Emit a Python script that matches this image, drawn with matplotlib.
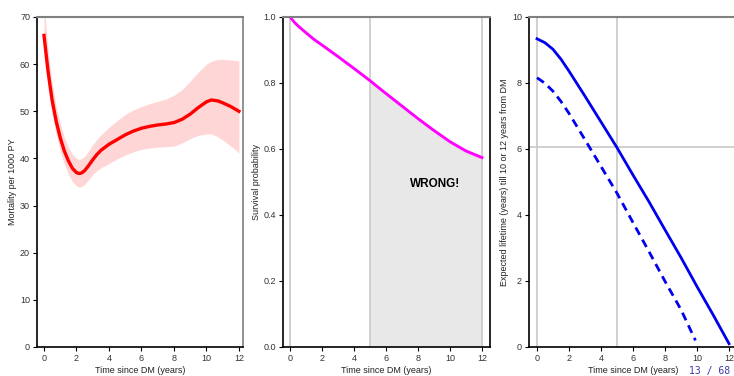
import matplotlib
matplotlib.use("Agg")
import matplotlib.pyplot as plt

plt.rcParams['font.family'] = ['Liberation Sans', 'DejaVu Sans']

# --- panel 1: mortality rate ---
t_mort = [0.0, 0.25, 0.5, 0.75, 1.0, 1.25, 1.5, 1.75, 2.0, 2.15, 2.3, 2.5, 2.75, 3.0, 3.25,
          3.5, 4.0, 4.5, 5.0, 5.5, 6.0, 6.5, 7.0, 7.5, 8.0, 8.5, 9.0, 9.5, 10.0, 10.3,
          10.7, 11.0, 11.5, 12.0]
mort = [66.1, 58.5, 52.4, 47.9, 44.4, 41.6, 39.5, 37.9, 37.0, 36.8, 36.9, 37.4, 38.5, 39.7, 40.8,
        41.7, 43.0, 44.0, 45.0, 45.8, 46.4, 46.8, 47.1, 47.3, 47.6, 48.3, 49.4, 50.8, 52.0, 52.4,
        52.2, 51.8, 51.0, 50.0]
mort_lo = [62.0, 55.0, 49.3, 45.0, 41.6, 38.8, 36.7, 35.1, 34.2, 33.9, 34.0, 34.5, 35.5, 36.6, 37.4,
           38.0, 38.9, 39.9, 40.7, 41.4, 41.9, 42.2, 42.4, 42.5, 42.6, 43.3, 44.2, 44.9, 45.2, 45.2,
           44.6, 43.9, 42.6, 41.2]
mort_hi = [73.0, 63.0, 56.0, 51.0, 47.4, 44.5, 42.4, 40.8, 40.0, 39.8, 39.9, 40.4, 41.6, 42.9, 44.0,
           45.0, 46.6, 48.0, 49.3, 50.3, 51.0, 51.6, 52.1, 52.6, 53.4, 54.6, 56.4, 58.3, 60.0, 60.6,
           61.0, 61.0, 60.9, 60.7]

# --- panel 2: survival ---
t_surv = [0.0, 0.25, 0.5, 1.0, 1.5, 2.0, 3.0, 4.0, 5.0, 6.0, 7.0, 8.0, 9.0, 10.0, 11.0, 12.0]
surv = [1.0, 0.985, 0.973, 0.952, 0.932, 0.915, 0.880, 0.844, 0.807, 0.768, 0.730, 0.692,
        0.656, 0.622, 0.594, 0.574]

# --- panel 3: expected lifetime ---
t_life12 = [0.0, 0.5, 1.0, 1.5, 2.0, 3.0, 4.0, 5.0, 6.0, 7.0, 8.0, 9.0, 10.0, 11.0, 12.0]
life12 = [9.34, 9.22, 9.02, 8.72, 8.36, 7.60, 6.82, 6.04, 5.21, 4.40, 3.55, 2.71, 1.83, 0.98, 0.10]
t_life10 = [0.0, 0.5, 1.0, 1.5, 2.0, 3.0, 4.0, 5.0, 6.0, 7.0, 8.0, 9.0, 9.9]
life10 = [8.16, 7.99, 7.75, 7.44, 7.08, 6.28, 5.47, 4.66, 3.77, 2.89, 1.99, 1.13, 0.20]

W, H = 734, 376
fig = plt.figure(figsize=(W / 100, H / 100), dpi=100)


def make_ax(left, right, top, bottom, xlim, ylim, yticks, ylabel, right_col):
    ax = fig.add_axes([left / W, (H - bottom) / H, (right - left) / W, (bottom - top) / H])
    ax.set_xlim(*xlim)
    ax.set_ylim(*ylim)
    ax.set_xticks(range(0, 13, 2))
    ax.set_yticks(yticks)
    ax.tick_params(direction='out', length=3, width=0.8, labelsize=6.5,
                   labelcolor='#333333', pad=2)
    for s in ('left', 'bottom'):
        ax.spines[s].set_color('black')
        ax.spines[s].set_linewidth(1.2)
    ax.spines['top'].set_color('#808080')
    ax.spines['top'].set_linewidth(1.5)
    ax.spines['right'].set_color(right_col)
    ax.spines['right'].set_linewidth(1.2)
    ax.set_xlabel('Time since DM (years)', fontsize=6.5, color='#222222', labelpad=2.5)
    ax.set_ylabel(ylabel, fontsize=6.5, color='#222222', labelpad=2)
    return ax


# panel 1
ax1 = make_ax(37, 243, 17, 347, (-0.43, 12.25), (0, 70), range(0, 71, 10),
              'Mortality per 1000 PY', '#808080')
ax1.fill_between(t_mort, mort_lo, mort_hi, color='#ffd6d6', lw=0)
ax1.plot(t_mort, mort, color='red', lw=2.4, solid_joinstyle='round')

# panel 2
ax2 = make_ax(283, 490, 17, 347, (-0.44, 12.5), (0, 1.0), [0, 0.2, 0.4, 0.6, 0.8, 1.0],
              'Survival probability', 'black')
ax2.yaxis.set_major_formatter(plt.FormatStrFormatter('%.1f'))
shade_t = [t for t in t_surv if t >= 5]
shade_s = [s for t, s in zip(t_surv, surv) if t >= 5]
ax2.fill_between(shade_t, 0, shade_s, color='#e8e8e8', lw=0)
for xv in (0, 5, 12):
    ax2.axvline(xv, color='#c8c8c8', lw=1.2)
ax2.fill_between(t_surv, [s - 0.006 for s in surv], [s + 0.006 for s in surv],
                 color='#f0b0f0', alpha=0.6, lw=0)
ax2.plot(t_surv, surv, color='#ff00ff', lw=2)
ax2.text(9.06, 0.495, 'WRONG!', fontsize=8.5, fontweight='bold', ha='center', va='center')

# panel 3
ax3 = make_ax(529, 738, 17, 347, (-0.5, 12.56), (0, 10), range(0, 11, 2),
              'Expected lifetime (years) till 10 or 12 years from DM', '#808080')
for xv in (0, 5):
    ax3.axvline(xv, color='#c8c8c8', lw=1.2)
ax3.axhline(6.05, color='#c8c8c8', lw=1.2)
ax3.plot(t_life12, life12, color='#0000ee', lw=2)
ax3.plot(t_life10, life10, color='#0000ee', lw=2, dashes=(3, 2))

fig.text(710 / W, 1 - 371 / H, '13 / 68', fontsize=7, family='DejaVu Sans Mono',
         color='#3a3aa8', ha='center', va='center')

fig.savefig('out.png', dpi=100)
